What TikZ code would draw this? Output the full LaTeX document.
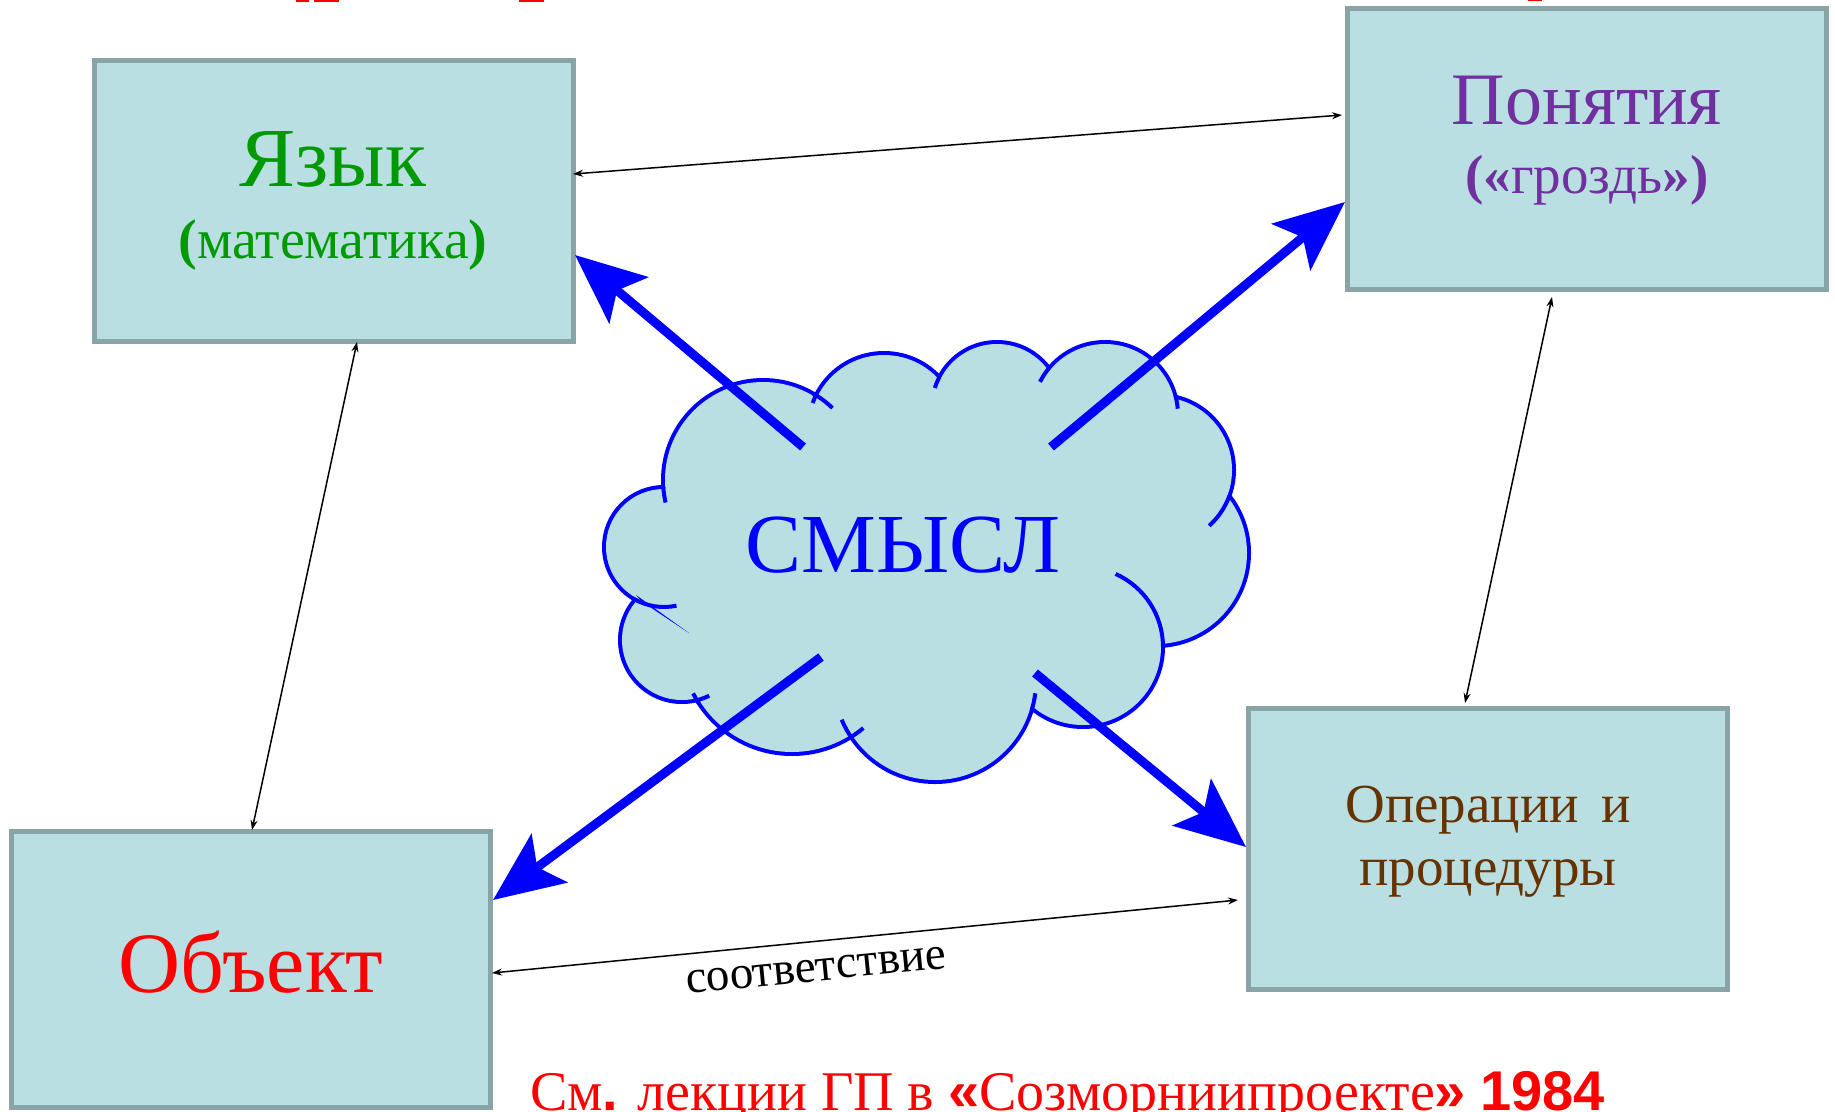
\documentclass[tikz,border=0pt]{standalone}
\usepackage{fontspec}
\setmainfont{Liberation Serif}
\newfontfamily\arialfont{Liberation Sans}
\usetikzlibrary{arrows.meta}
\definecolor{boxfill}{RGB}{186,223,226}
\definecolor{boxline}{RGB}{137,164,166}
\definecolor{cloudblue}{RGB}{0,0,255}
\definecolor{grn}{RGB}{0,153,0}
\definecolor{purp}{RGB}{112,48,160}
\definecolor{brn}{RGB}{102,51,0}
\newcommand\myfs[1]{\fontsize{#1}{#1}\selectfont}
\tikzset{
  conceptbox/.style={draw=boxline, fill=boxfill, line width=5pt, inner sep=0pt,
    minimum width=479pt, minimum height=281pt},
  bigarrow/.style={draw=cloudblue, line width=9pt,
    -{Stealth[length=70pt,width=60pt,inset=15pt]}},
  thinarrow/.style={draw=black, line width=1.5pt,
    {Stealth[length=10pt,width=7pt]}-{Stealth[length=10pt,width=7pt]}},
  lbl/.style={anchor=base, inner sep=0pt},
  stub/.style={draw=cloudblue, line width=4pt}
}
\begin{document}
\begin{tikzpicture}[x=1pt,y=-1pt]
\useasboundingbox (0,0) rectangle (1835,1111);
% tiny red fragments of a cut-off line at the top edge
\fill[red] (296,0) rectangle (309,1.5);
\fill[red] (314,0) rectangle (339,1.5);
\fill[red] (519,0) rectangle (544,1.5);
\fill[red] (1528,0) rectangle (1542,1);

% boxes
\node[conceptbox] (yazykbox) at (333.5,201) {};
\node[conceptbox] (ponbox) at (1587,149) {};
\node[conceptbox] (operbox) at (1488,849) {};
\node[conceptbox, minimum height=276pt] (objbox) at (251,969.5) {};

% box texts
\node[lbl, text=grn] (yazyk) at (333,186) {\myfs{84}Язык};
\node[lbl, text=grn] (matem) at (333,258) {\myfs{56}{\bfseries (}математика{\bfseries )}};
\node[lbl, text=purp] (ponyat) at (1587,124) {\myfs{74}Понятия};
\node[lbl, text=purp] (grozd) at (1587,193) {\myfs{55}{\bfseries («}гроздь{\bfseries »)}};
\node[lbl, text=brn] (oper1) at (1488,822) {\myfs{55}Операции\hspace{22pt}и};
\node[lbl, text=brn] (oper2) at (1488,885) {\myfs{55}процедуры};
\node[lbl, text=red] (obj) at (251,992) {\myfs{86}Объект};

% cloud: outline of union of lobes
\def\lobes{763/480/100, 884/429/76, 997/407/65, 1105/415/73, 1159/470/75,
  1156/553/93, 1083/647/80, 935/681/101, 792/643/111, 682/640/62, 664/547/60}
\foreach \cx/\cy/\r in \lobes {\fill[cloudblue] (\cx,\cy) circle[radius=\r+2];}
\foreach \cx/\cy/\r in \lobes {\fill[boxfill] (\cx,\cy) circle[radius=\r-2];}
\fill[boxfill] (920,550) ellipse[x radius=250, y radius=170];
% inner arc stubs of the cloud
\foreach \cx/\cy/\r/\a/\b in {763/480/100/-60/-46, 884/429/76/-160/-152,
  997/407/65/-163/-153, 1105/415/73/-153/-140, 1105/415/73/-15/-5,
  1159/470/75/20/48, 1083/647/80/-66/0, 935/681/101/7/17,
  935/681/101/145/157.5, 792/643/111/50/58, 792/643/111/147/153,
  682/640/62/64/76, 664/547/60/78/120, 763/480/100/167/176}
  {\draw[stub] (\cx,\cy) ++(\a:\r) arc[start angle=\a, end angle=\b, radius=\r];}
\fill[cloudblue] (636,595) -- (689,633) -- (641,601) -- cycle;
\node[lbl, text=cloudblue] (smysl) at (903,572) {\myfs{84}СМЫСЛ};

% thick blue arrows from the cloud
\coordinate (s1) at (803,447); \coordinate (t1) at (575,255);
\coordinate (s2) at (1051,447); \coordinate (t2) at (1345,202);
\coordinate (s3) at (821,657); \coordinate (t3) at (493,900);
\coordinate (s4) at (1035,673); \coordinate (t4) at (1246,847);
\draw[bigarrow] (s1) -- (t1);
\draw[bigarrow] (s2) -- (t2);
\draw[bigarrow] (s3) -- (t3);
\draw[bigarrow] (s4) -- (t4);

% thin double arrows between boxes
\coordinate (ya1) at (573,174); \coordinate (po1) at (1342,115);
\coordinate (ya2) at (357,342); \coordinate (ob2) at (252,830);
\coordinate (po3) at (1552,297); \coordinate (op3) at (1465,703);
\coordinate (ob4) at (492,973); \coordinate (op4) at (1238,900);
\draw[thinarrow] (ya1) -- (po1);
\draw[thinarrow] (ya2) -- (ob2);
\draw[thinarrow] (po3) -- (op3);
\draw[thinarrow] (ob4) -- (op4);
\node[lbl, rotate=5.6] (sootv) at (817,981) {\myfs{47}соответствие};

% bottom note
\node[anchor=base west, inner sep=0pt, text=red] (note) at (530,1110)
  {\myfs{56}См{\arialfont\bfseries .} лекции ГП в {\arialfont\bfseries «}Созморниипроекте{\arialfont\bfseries »} {\arialfont\bfseries 1984}};
\end{tikzpicture}
\end{document}
